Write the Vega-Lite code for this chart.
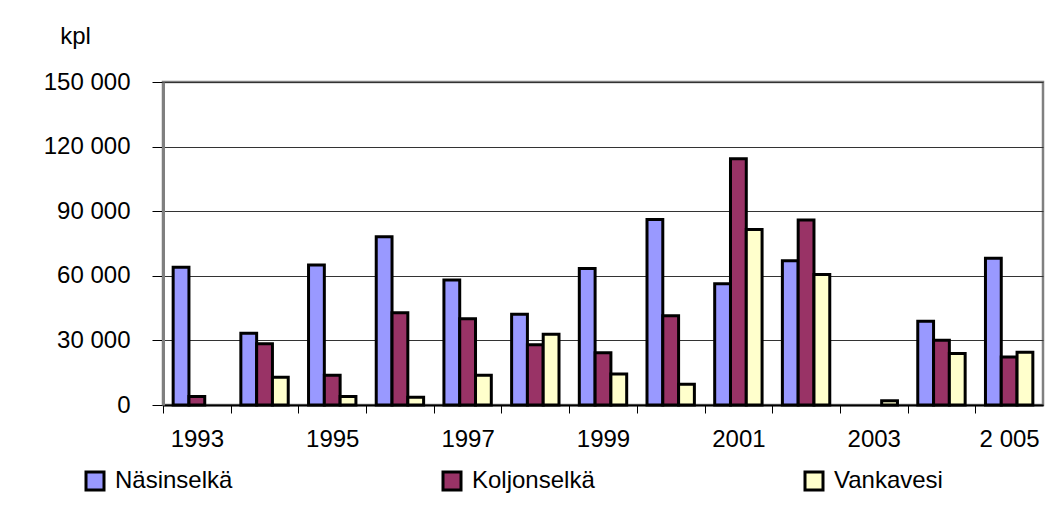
{
  "$schema": "https://vega.github.io/schema/vega-lite/v6.json",
  "width": 880,
  "height": 323,
  "autosize": {"type": "none"},
  "padding": {"left": 163, "top": 82, "right": 20, "bottom": 100},
  "background": "white",
  "config": {"view": {"stroke": "#808080", "strokeWidth": 2.5}, "font": "Liberation Sans"},
  "data": {"values": [
    {"year": "1993", "lake": "Näsinselkä", "count": 64000},
    {"year": "1993", "lake": "Koljonselkä", "count": 4000},
    {"year": "1994", "lake": "Näsinselkä", "count": 33300},
    {"year": "1994", "lake": "Koljonselkä", "count": 28400},
    {"year": "1994", "lake": "Vankavesi", "count": 12900},
    {"year": "1995", "lake": "Näsinselkä", "count": 65000},
    {"year": "1995", "lake": "Koljonselkä", "count": 13800},
    {"year": "1995", "lake": "Vankavesi", "count": 3900},
    {"year": "1996", "lake": "Näsinselkä", "count": 78100},
    {"year": "1996", "lake": "Koljonselkä", "count": 42800},
    {"year": "1996", "lake": "Vankavesi", "count": 3600},
    {"year": "1997", "lake": "Näsinselkä", "count": 58000},
    {"year": "1997", "lake": "Koljonselkä", "count": 40000},
    {"year": "1997", "lake": "Vankavesi", "count": 13800},
    {"year": "1998", "lake": "Näsinselkä", "count": 42200},
    {"year": "1998", "lake": "Koljonselkä", "count": 28000},
    {"year": "1998", "lake": "Vankavesi", "count": 32900},
    {"year": "1999", "lake": "Näsinselkä", "count": 63400},
    {"year": "1999", "lake": "Koljonselkä", "count": 24300},
    {"year": "1999", "lake": "Vankavesi", "count": 14400},
    {"year": "2000", "lake": "Näsinselkä", "count": 86200},
    {"year": "2000", "lake": "Koljonselkä", "count": 41500},
    {"year": "2000", "lake": "Vankavesi", "count": 9600},
    {"year": "2001", "lake": "Näsinselkä", "count": 56300},
    {"year": "2001", "lake": "Koljonselkä", "count": 114400},
    {"year": "2001", "lake": "Vankavesi", "count": 81500},
    {"year": "2002", "lake": "Näsinselkä", "count": 67000},
    {"year": "2002", "lake": "Koljonselkä", "count": 85900},
    {"year": "2002", "lake": "Vankavesi", "count": 60600},
    {"year": "2003", "lake": "Vankavesi", "count": 2000},
    {"year": "2004", "lake": "Näsinselkä", "count": 38900},
    {"year": "2004", "lake": "Koljonselkä", "count": 30100},
    {"year": "2004", "lake": "Vankavesi", "count": 23900},
    {"year": "2005", "lake": "Näsinselkä", "count": 68200},
    {"year": "2005", "lake": "Koljonselkä", "count": 22300},
    {"year": "2005", "lake": "Vankavesi", "count": 24500}
  ]},
  "mark": {"type": "bar", "stroke": "black", "strokeWidth": 3},
  "encoding": {
    "x": {
      "field": "year", "type": "nominal",
      "scale": {"paddingInner": 0.3, "paddingOuter": 0.15},
      "axis": {
        "title": null, "labelAngle": 0, "labelOverlap": false,
        "tickOffset": -33.85, "labelOffset": 33.85,
        "tickSize": 8, "tickColor": "black", "tickWidth": 1,
        "domainColor": "black", "domainWidth": 2,
        "labelFontSize": 24, "labelColor": "black", "labelPadding": 14,
        "labelExpr": "datum.value == '2005' ? '2 005' : (toNumber(datum.value) % 2 == 1 ? datum.value : '')"
      }
    },
    "xOffset": {
      "field": "lake", "type": "nominal",
      "scale": {"domain": ["Näsinselkä", "Koljonselkä", "Vankavesi"], "paddingInner": 0, "paddingOuter": 0}
    },
    "y": {
      "field": "count", "type": "quantitative",
      "scale": {"domain": [0, 150000], "nice": false},
      "axis": {
        "title": "kpl", "titleAngle": 0, "titleX": -88, "titleY": -39,
        "titleAlign": "center", "titleBaseline": "alphabetic",
        "titleFontSize": 24, "titleFontWeight": "normal", "titleColor": "black",
        "values": [0, 30000, 60000, 90000, 120000, 150000],
        "labelExpr": "replace(format(datum.value, ','), regexp(',', 'g'), ' ')",
        "labelFontSize": 24, "labelColor": "black", "labelPadding": 22,
        "tickSize": 11, "tickColor": "black", "tickWidth": 1,
        "domainColor": "#808080", "domainWidth": 3,
        "grid": true, "gridColor": "#333333", "gridWidth": 1
      }
    },
    "color": {
      "field": "lake", "type": "nominal",
      "scale": {"domain": ["Näsinselkä", "Koljonselkä", "Vankavesi"], "range": ["#9999FF", "#993366", "#FFFFCC"]},
      "legend": {
        "orient": "none", "legendX": -80, "legendY": 387, "direction": "horizontal",
        "title": null, "symbolType": "square", "symbolSize": 324,
        "symbolStrokeColor": "black", "symbolStrokeWidth": 3,
        "labelFontSize": 24, "labelColor": "black", "labelOffset": 8,
        "columnPadding": 204
      }
    }
  }
}
